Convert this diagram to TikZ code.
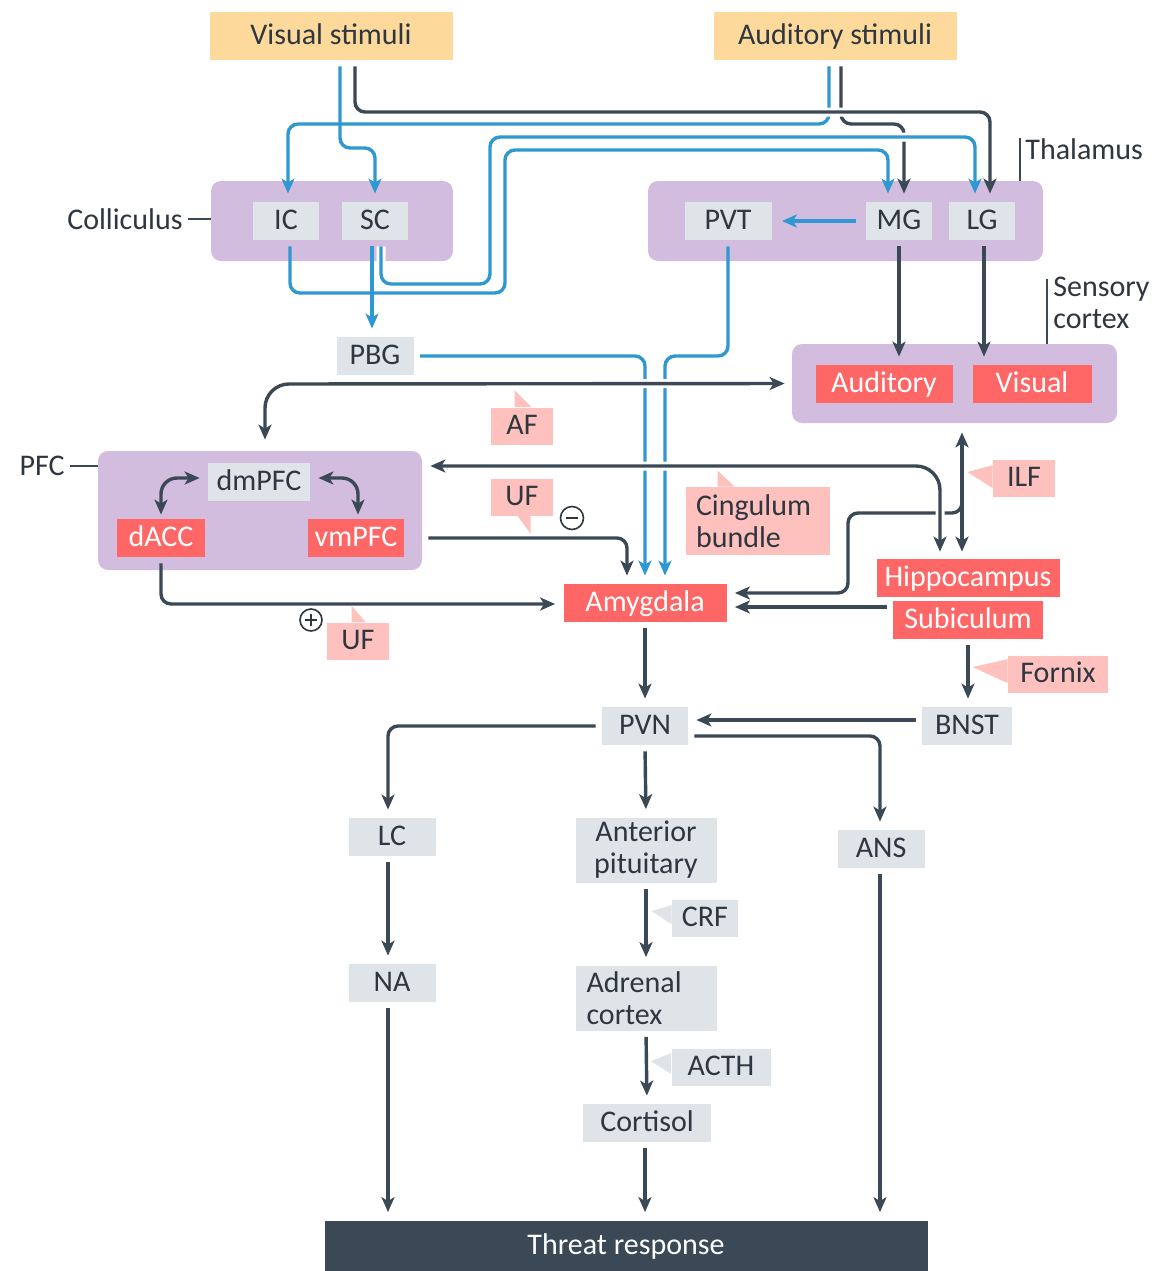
\documentclass[tikz,border=0pt]{standalone}
\usepackage{fontspec}
\setmainfont{Carlito}
\usetikzlibrary{arrows.meta}

\definecolor{stimc}{HTML}{FDDA9B}
\definecolor{regc}{HTML}{D3BDDE}
\definecolor{greyc}{HTML}{DEE4E8}
\definecolor{hotc}{HTML}{FF6666}
\definecolor{tagc}{HTML}{FFC1BD}
\definecolor{bluec}{HTML}{2F98D2}
\definecolor{inkc}{HTML}{3B4856}
\definecolor{textc}{HTML}{2E3640}

\tikzset{
  lbl/.style={inner sep=0pt, font=\fontsize{15}{16}\selectfont, text=textc},
  box/.style={lbl, rectangle, minimum height=19pt, text height=12pt, text depth=3.5pt},
  stim/.style={box, fill=stimc, minimum width=121.5pt, minimum height=24pt},
  region/.style={rectangle, rounded corners=5pt, fill=regc, inner sep=0pt},
  relay/.style={box, fill=greyc},
  hot/.style={box, fill=hotc, text=white},
  tag/.style={box, fill=tagc, minimum height=18.5pt},
  leader/.style={draw=inkc, line width=0.7pt},
  blueline/.style={draw=bluec, line width=1.7pt, rounded corners=5pt, shorten <=3pt, shorten >=4pt},
  darkline/.style={draw=inkc, line width=1.7pt, rounded corners=5pt, shorten <=3pt, shorten >=4pt},
  tip/.style={-{Stealth[length=7.5pt,width=6.5pt,inset=2pt]}},
  tips/.style={{Stealth[length=7.5pt,width=6.5pt,inset=2pt]}-{Stealth[length=7.5pt,width=6.5pt,inset=2pt]}},
  halo/.style={preaction={draw=white, line width=4.5pt, arrows=-, shorten >=#1}},
  halo/.default=4pt,
  sign/.style={circle, draw=textc, line width=0.8pt, inner sep=0pt, minimum size=11.5pt}
}

\begin{document}
\begin{tikzpicture}[x=0.5pt, y=-0.5pt]
\useasboundingbox (0,0) rectangle (1163,1271);

% regions
\node[region, minimum width=121pt, minimum height=40pt] (colli) at (332,221) {};
\node[region, minimum width=197.5pt, minimum height=40pt] (thal) at (845.5,221) {};
\node[region, minimum width=162.5pt, minimum height=39.5pt] (sens) at (954.5,383.5) {};
\node[region, minimum width=162pt, minimum height=59.5pt] (pfc) at (260,510.5) {};

\node[lbl, anchor=east] (collilbl) at (183,219) {Colliculus};
\draw[leader] (collilbl.east) ++(2.5pt,0) -- (colli.west |- collilbl.east);
\node[lbl, anchor=west] (thallbl) at (1025,149) {Thalamus};
\draw[leader] ([xshift=-2.5pt]thallbl.north west) -- ([xshift=-2.5pt]thallbl.north west |- thal.north);
\node[lbl, anchor=north west, align=left] (senslbl) at (1053,277) {Sensory\\cortex};
\draw[leader] ([xshift=-3pt,yshift=-1pt]senslbl.north west) -- ([xshift=-3pt]senslbl.north west |- sens.north);
\node[lbl, anchor=east] (pfclbl) at (65,466) {PFC};
\draw[leader] (pfclbl.east) ++(2.5pt,0) -- (pfc.west |- pfclbl.east);

% stimuli
\node[stim] (vis) at (331,36) {Visual stimuli};
\node[stim] (aud) at (835,36) {Auditory stimuli};

% nodes
\node[relay, minimum width=33pt] (ic) at (286,221) {IC};
\node[relay, minimum width=33pt] (sc) at (375,221) {SC};
\node[relay, minimum width=43.5pt] (pvt) at (728,221) {PVT};
\node[relay, minimum width=33pt] (mg) at (899,221) {MG};
\node[relay, minimum width=33pt] (lg) at (982,221) {LG};
\node[hot, minimum width=68.5pt] (audc) at (884,384) {Auditory};
\node[hot, minimum width=59.5pt] (visc) at (1032,384) {Visual};
\node[relay, minimum width=38.5pt] (pbg) at (375,356) {PBG};
\node[relay, minimum width=51pt] (dmpfc) at (259,482) {dmPFC};
\node[hot, minimum width=44pt] (dacc) at (161,538) {dACC};
\node[hot, minimum width=48pt] (vmpfc) at (356,538) {vmPFC};
\node[hot, minimum width=81.5pt] (amy) at (645,603) {Amygdala};
\node[hot, minimum width=91.5pt] (hip) at (968,578) {Hippocampus};
\node[hot, minimum width=75pt] (sub) at (968,620) {Subiculum};
\node[relay, minimum width=43pt] (pvn) at (645,726) {PVN};
\node[relay, minimum width=45pt] (bnst) at (967,726) {BNST};
\node[relay, minimum width=43.5pt] (lc) at (392,837) {LC};
\node[lbl, fill=greyc, minimum width=70.5pt, minimum height=32.5pt, align=center] (antpit) at (646,850) {Anterior\\pituitary};
\node[relay, minimum width=43.5pt] (ans) at (881,849) {ANS};
\node[relay, minimum width=43.5pt] (na) at (392,983) {NA};
\node[lbl, fill=greyc, text width=59.5pt, inner xsep=5.5pt, minimum height=32.5pt, align=left] (adr) at (646,998) {Adrenal\\cortex};
\node[relay, minimum width=64pt] (cort) at (647,1123) {Cortisol};
\node[box, fill=inkc, text=white, minimum width=301.5pt, minimum height=25.5pt] (threat) at (626,1246) {Threat response};

% sensory routes
\draw[blueline, tip] (vis.south -| 340,0) -- (340,148) -- (375,148) -- (sc.north);
\draw[blueline, tip] (aud.south -| 829,0) -- (829,124) -- (288,124) -- (ic.north -| 288,0);
\draw[darkline, tip] (aud.south -| 841,0) -- (841,124) -- (904,124) -- (mg.north -| 904,0);
\draw[darkline, halo=20pt, tip] (vis.south -| 355,0) -- (355,112) -- (990,112) -- (lg.north -| 990,0);
\draw[blueline, tip] (ic.south -| 290,0) -- (290,293) -- (505,293) -- (505,150) -- (888,150) -- (mg.north -| 888,0);
\draw[blueline, halo=20pt, tip] (sc.south -| 381,0) -- (381,284) -- (490,284) -- (490,137) -- (975,137) -- (lg.north -| 975,0);
\draw[blueline, tip] (sc.south -| 372,0) -- (pbg.north -| 372,0);
\draw[blueline, tip, shorten <=5pt, shorten >=5pt] (mg.west) -- (pvt.east);
\draw[blueline, tip] (pvt.south) -- (728,356) -- (665,356) -- (amy.north -| 665,0);
\draw[blueline, tip] (pbg.east) -- (645,356) -- (amy.north -| 645,0);
\draw[darkline, tip] (mg.south -| 899,0) -- (audc.north -| 899,0);
\draw[darkline, tip] (lg.south -| 984,0) -- (visc.north -| 984,0);

% tracts
\coordinate (ilfjoin) at (962,494);
\draw[darkline, tip, shorten <=0pt] (ilfjoin) -- (962,513) -- (848,513) -- (848,593) -- (amy.east |- 0,593);
\draw[darkline, tip] (sub.west |- 0,607) -- (amy.east |- 0,607);
\draw[darkline, tips, shorten <=4.5pt, shorten >=3.5pt] (sens.south -| 962,0) -- (hip.north -| 962,0);
\draw[darkline, tips, halo, rounded corners=12pt, shorten <=5.5pt, shorten >=3.5pt] (pfc.north -| 265,0) -- (265,384) -- (sens.west);
\draw[darkline, tips, halo, rounded corners=12pt, shorten <=3.5pt, shorten >=4pt] (hip.north -| 940,0) -- (940,466) -- (pfc.east |- 0,466);
\draw[darkline, tip] (pfc.east |- vmpfc.east) -- (627,538) -- (amy.north -| 627,0);
\draw[darkline, tip] (dacc.south) -- (161,604) -- (amy.west |- 0,604);
\draw[darkline, tips, rounded corners=8pt, shorten <=4pt, shorten >=2pt] (dmpfc.west |- 0,478) -- (161,478) -- (dacc.north);
\draw[darkline, tips, rounded corners=8pt, shorten <=4pt, shorten >=2pt] (dmpfc.east |- 0,478) -- (358,478) -- (vmpfc.north -| 358,0);

% outputs
\draw[darkline, tip] (amy.south) -- (pvn.north);
\draw[darkline, tip] (sub.south -| 968,0) -- (bnst.north -| 968,0);
\draw[darkline, tip] (bnst.west |- 0,720) -- (pvn.east |- 0,720);
\draw[darkline, tip] (pvn.west) -- (388,726) -- (lc.north -| 388,0);
\draw[darkline, tip] (pvn.east |- 0,736) -- (880,736) -- (ans.north -| 880,0);
\draw[darkline, tip] (pvn.south) -- (antpit.north);
\draw[darkline, tip] (antpit.south) -- (adr.north);
\draw[darkline, tip] (adr.south) -- (cort.north);
\draw[darkline, tip] (cort.south -| 645,0) -- (threat.north -| 645,0);
\draw[darkline, tip] (lc.south -| 388,0) -- (na.north -| 388,0);
\draw[darkline, tip] (na.south -| 388,0) -- (threat.north -| 388,0);
\draw[darkline, tip] (ans.south -| 880,0) -- (threat.north -| 880,0);

% tract tags
\node[tag, minimum width=31pt] (af) at (522,426) {AF};
\fill[tagc] (af.north west) ++(24,0) -- ++(0,-17) -- ++(17,17) -- cycle;
\node[tag, minimum width=31pt] (ufa) at (522,497) {UF};
\fill[tagc] (ufa.south west) ++(27,0) -- ++(13,18) -- ++(0,-18) -- cycle;
\node[tag, minimum width=31pt] (ufb) at (358,641) {UF};
\fill[tagc] (ufb.north west) ++(25,0) -- ++(0,-16) -- ++(14,16) -- cycle;
\node[lbl, fill=tagc, text width=62pt, inner xsep=5pt, minimum height=34pt, align=left] (cing) at (758,521) {Cingulum\\bundle};
\fill[tagc] (cing.north west) ++(32,0) -- ++(0,-16) -- ++(17,16) -- cycle;
\node[tag, minimum width=31pt] (ilf) at (1024,478) {ILF};
\fill[tagc] (ilf.north west) ++(0,6) -- ++(-25,7) -- ++(25,16) -- cycle;
\node[tag, minimum width=50pt] (fornix) at (1058,674) {Fornix};
\fill[tagc] (fornix.north west) ++(0,4) -- ++(-35,8) -- ++(35,16) -- cycle;
\node[relay, minimum width=33pt, minimum height=18.5pt] (crf) at (705,918) {CRF};
\fill[greyc] (crf.north west) ++(0,6) -- ++(-20,6) -- ++(20,13) -- cycle;
\node[relay, minimum width=49.5pt, minimum height=18.5pt] (acth) at (721,1067) {ACTH};
\fill[greyc] (acth.north west) ++(0,5) -- ++(-20,8) -- ++(20,13) -- cycle;

% signs
\node[sign] (minus) at (572,518) {};
\draw[textc, line width=0.8pt] ([xshift=-3pt]minus.center) -- ([xshift=3pt]minus.center);
\node[sign, minimum size=11pt] (plus) at (311,620) {};
\draw[textc, line width=0.8pt] ([xshift=-3pt]plus.center) -- ([xshift=3pt]plus.center)
  ([yshift=-3pt]plus.center) -- ([yshift=3pt]plus.center);
\end{tikzpicture}
\end{document}
